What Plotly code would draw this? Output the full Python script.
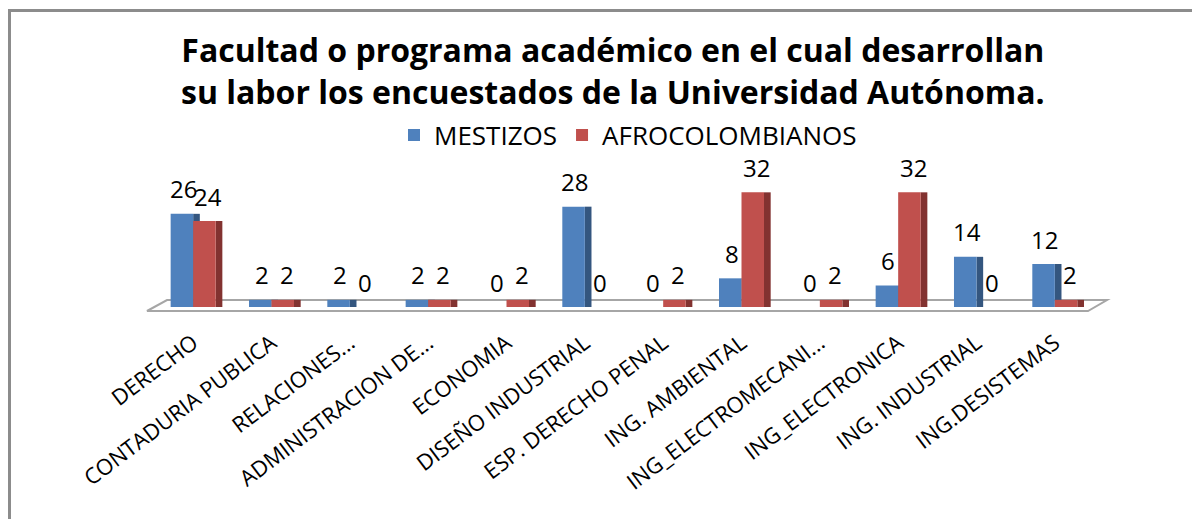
import plotly.graph_objects as go

programas = [
    "DERECHO",
    "CONTADURIA PUBLICA",
    "RELACIONES...",
    "ADMINISTRACION DE...",
    "ECONOMIA",
    "DISEÑO INDUSTRIAL",
    "ESP. DERECHO PENAL",
    "ING. AMBIENTAL",
    "ING_ELECTROMECANI...",
    "ING_ELECTRONICA",
    "ING. INDUSTRIAL",
    "ING.DESISTEMAS",
]
mestizos = [26, 2, 2, 2, 0, 28, 0, 8, 0, 6, 14, 12]
afrocolombianos = [24, 2, 0, 2, 2, 0, 2, 32, 2, 32, 0, 2]

# the page body keeps its default 8px margin, so the figure is drawn 8px in
OFF = 8
W, H = 1200 - OFF, 519 - OFF
ML, MR, MT, MB = 154 - OFF, 106, 178 - OFF, 212
PW, PH = W - ML - MR, H - MT - MB


def px(x):
    # screen pixel -> paper x
    return (x - OFF - ML) / PW


def py(y):
    # screen pixel -> paper y
    return (H - MB - (y - OFF)) / PH


BW = 0.2875  # front face width (category = 1)
SW = 0.085   # dark side face, fakes the old 3D look
FONT = "Open Sans"

fig = go.Figure()

# side faces first so the front faces sit on top of them
fig.add_trace(go.Bar(x=programas, y=mestizos, width=SW, offset=0,
                     marker=dict(color="#34567F", line_width=0),
                     showlegend=False, hoverinfo="skip"))
fig.add_trace(go.Bar(x=programas, y=mestizos, width=BW, offset=-BW,
                     name="MESTIZOS",
                     marker=dict(color="#4F81BD", line_width=0)))
fig.add_trace(go.Bar(x=programas, y=afrocolombianos, width=SW, offset=BW,
                     marker=dict(color="#823230", line_width=0),
                     showlegend=False, hoverinfo="skip"))
fig.add_trace(go.Bar(x=programas, y=afrocolombianos, width=BW, offset=0,
                     name="AFROCOLOMBIANOS",
                     marker=dict(color="#C0504D", line_width=0)))

# value labels above each bar
annotations = []
for serie, shift in ((mestizos, -10), (afrocolombianos, 15)):
    for cat, val in zip(programas, serie):
        annotations.append(dict(
            x=cat, y=val, text=str(val), showarrow=False,
            xshift=shift, yshift=25, yanchor="middle",
            font=dict(size=24, family=FONT, color="#000000"),
        ))

# title, two lines
annotations.append(dict(
    x=px(613), y=py(70), xref="paper", yref="paper",
    text="<b>Facultad o programa académico en el cual desarrollan<br>"
    "su labor los encuestados de la Universidad Autónoma.</b>",
    showarrow=False, xanchor="center", yanchor="middle",
    font=dict(size=32, family=FONT, color="#000000"),
))

# floor of the 3D chart and the frame around it
floor = "M {},{} L {},{} L {},{} L {},{} Z".format(
    px(147), py(311), px(1088), py(311), px(1107), py(300), px(167), py(300)
)
shapes = [
    dict(type="path", path=floor, xref="paper", yref="paper",
         line=dict(color="#A6A6A6", width=2), layer="below"),
    dict(type="line", xref="paper", yref="paper",
         x0=px(9.5), x1=px(9.5), y0=py(10), y1=py(530),
         line=dict(color="#8C8C8C", width=3)),
    dict(type="line", xref="paper", yref="paper",
         x0=px(8), x1=px(1210), y0=py(10.5), y1=py(10.5),
         line=dict(color="#8C8C8C", width=3)),
]

fig.update_layout(
    width=W,
    height=H,
    margin=dict(l=ML, r=MR, t=MT, b=MB),
    paper_bgcolor="white",
    plot_bgcolor="white",
    barmode="overlay",
    font=dict(family=FONT, color="#000000"),
    legend=dict(
        orientation="h",
        xref="container",
        yref="container",
        x=(628 - OFF) / W,
        xanchor="center",
        y=1 - (135 - OFF) / H,
        yanchor="middle",
        font=dict(size=26, family=FONT),
        itemwidth=30,
        tracegroupgap=0,
    ),
    annotations=annotations,
    shapes=shapes,
)
fig.update_xaxes(
    tickangle=-37,
    tickfont=dict(size=22, family=FONT),
    showline=False,
    ticks="",
    showgrid=False,
    automargin=False,
    ticklabelstandoff=18,
)
fig.update_yaxes(range=[0, 36], visible=False, showgrid=False)

fig.write_html("out.html")
